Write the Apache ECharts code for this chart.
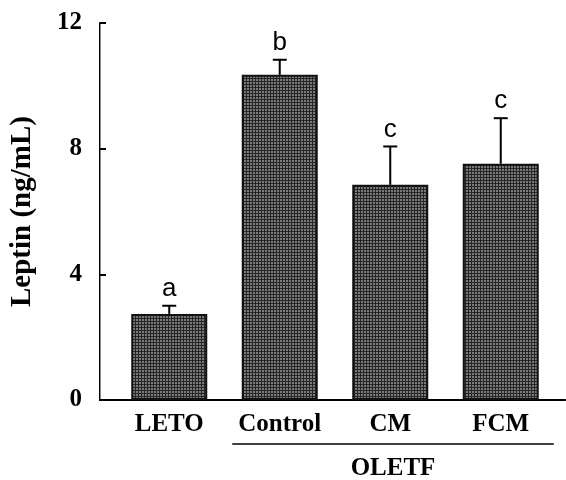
<!DOCTYPE html>
<html>
<head>
<meta charset="utf-8">
<script src="https://cdn.jsdelivr.net/npm/echarts@6/dist/echarts.min.js"></script>
<style>
  html, body { margin: 0; padding: 0; background: #fff; }
  #chart { width: 566px; height: 480px; }
</style>
</head>
<body>
<div id="chart"></div>
<script>
const groups = ['LETO', 'Control', 'CM', 'FCM']
const leptin = [2.74, 10.35, 6.85, 7.52]
const sem = [0.26, 0.48, 1.22, 1.45]
const letters = ['a', 'b', 'c', 'c']
const yTicks = [0, 4, 8, 12]

const serif = '"Liberation Serif", "DejaVu Serif", serif'

// stippled grey fill like the scanned figure
const tile = document.createElement('canvas')
tile.width = 3
tile.height = 3
const tctx = tile.getContext('2d')
tctx.fillStyle = '#7a7a7a'
tctx.fillRect(0, 0, 3, 3)
tctx.fillStyle = '#262626'
tctx.fillRect(0, 0, 3, 1)
tctx.fillRect(0, 0, 1, 3)

const myChart = echarts.init(document.getElementById('chart'))

myChart.setOption({
  animation: false,
  grid: [
    { left: 114, right: 10, top: 23, bottom: 80 },
    { left: 100, right: 1, top: 23, bottom: 80 }
  ],
  xAxis: [
    {
      type: 'category', gridIndex: 0, data: groups,
      axisLine: { show: false }, axisTick: { show: false },
      axisLabel: { interval: 0, hideOverlap: false, color: '#000', fontFamily: serif, fontWeight: 'bold', fontSize: 25, margin: 12 }
    },
    {
      type: 'value', gridIndex: 1, position: 'bottom', min: 0, max: 1,
      axisLine: { show: true, lineStyle: { color: '#000', width: 2 } },
      axisTick: { show: false }, axisLabel: { show: false }, splitLine: { show: false }
    },
    {
      type: 'value', gridIndex: 1, position: 'top', min: 0, max: 1,
      axisLine: { show: true, lineStyle: { color: '#000', width: 2 } },
      axisTick: { show: false }, axisLabel: { show: false }, splitLine: { show: false }
    }
  ],
  yAxis: [
    { type: 'value', gridIndex: 0, min: 0, max: 12, show: false },
    {
      type: 'value', gridIndex: 1, min: 0, max: 12, interval: 4,
      name: 'Leptin (ng/mL)', nameLocation: 'middle', nameGap: 63,
      nameTextStyle: { color: '#000', fontFamily: serif, fontWeight: 'bold', fontSize: 29 },
      axisLine: { show: true, lineStyle: { color: '#000', width: 2 } },
      axisTick: { show: true, inside: true, length: 6, lineStyle: { color: '#000', width: 2 } },
      axisLabel: { color: '#000', fontFamily: serif, fontWeight: 'bold', fontSize: 25, margin: 18,
        formatter: v => yTicks.includes(v) ? String(v) : '' },
      splitLine: { show: false }
    },
    {
      type: 'value', gridIndex: 1, position: 'right', min: 0, max: 12,
      axisLine: { show: true, lineStyle: { color: '#888', width: 1 } },
      axisTick: { show: false }, axisLabel: { show: false }, splitLine: { show: false }
    }
  ],
  series: [
    {
      type: 'bar', xAxisIndex: 0, yAxisIndex: 0, data: leptin, barWidth: 76,
      itemStyle: { color: { image: tile, repeat: 'repeat' }, borderColor: '#111', borderWidth: 2 }
    },
    {
      type: 'custom', xAxisIndex: 0, yAxisIndex: 0, z: 5,
      data: leptin.map((v, i) => [i, v, v + sem[i]]),
      renderItem: (params, api) => {
        const base = api.coord([api.value(0), api.value(1)])
        const top = api.coord([api.value(0), api.value(2)])
        const lineStyle = { stroke: '#000', lineWidth: 2 }
        return {
          type: 'group',
          children: [
            { type: 'line', shape: { x1: top[0], y1: base[1], x2: top[0], y2: top[1] }, style: lineStyle },
            { type: 'line', shape: { x1: top[0] - 7, y1: top[1], x2: top[0] + 7, y2: top[1] }, style: lineStyle },
            {
              type: 'text', x: top[0], y: top[1] - 4,
              style: {
                text: letters[params.dataIndex], fill: '#000', fontSize: 26,
                fontFamily: '"Liberation Sans Narrow", "Liberation Sans", Arial, sans-serif',
                align: 'center', verticalAlign: 'bottom'
              }
            }
          ]
        }
      }
    }
  ]
})

// OLETF bracket under Control, CM, FCM
const band = myChart.convertToPixel({ xAxisIndex: 0 }, 'CM') - myChart.convertToPixel({ xAxisIndex: 0 }, 'Control')
const x1 = myChart.convertToPixel({ xAxisIndex: 0 }, 'Control') - band * 0.43
const x2 = myChart.convertToPixel({ xAxisIndex: 0 }, 'FCM') + band * 0.48
const axisY = myChart.convertToPixel({ yAxisIndex: 0 }, 0)
myChart.setOption({
  graphic: [
    { type: 'line', shape: { x1: x1, y1: axisY + 44, x2: x2, y2: axisY + 44 }, style: { stroke: '#000', lineWidth: 1.5 } },
    {
      type: 'text', x: (x1 + x2) / 2, y: axisY + 69,
      style: { text: 'OLETF', fill: '#000', fontFamily: serif, fontWeight: 'bold', fontSize: 25, align: 'center', verticalAlign: 'middle' }
    }
  ]
})
</script>
</body>
</html>
